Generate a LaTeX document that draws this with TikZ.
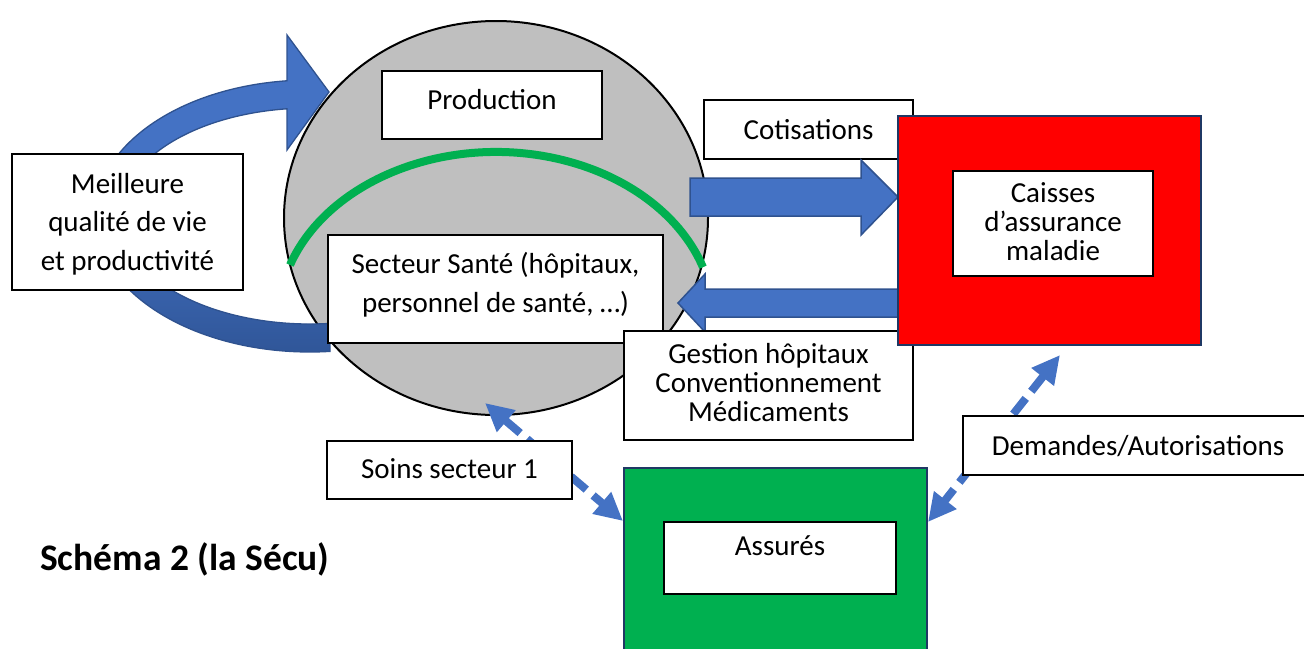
\documentclass[tikz,border=0pt]{standalone}
\usepackage{fontspec}
\setmainfont{Carlito}
\usetikzlibrary{arrows.meta,shapes.geometric}
\definecolor{ablue}{HTML}{4472C4}
\definecolor{ablueD}{HTML}{2F5597}
\definecolor{aedge}{HTML}{2F528F}
\definecolor{agreen}{HTML}{00B050}
\definecolor{anavy}{HTML}{1F3864}
\definecolor{agray}{HTML}{BFBFBF}
% width, height, first-baseline offset, baselineskip, text
\newcommand\boxtxt[5]{\parbox[c][#2pt][t]{#1pt}{\centering\fontsize{29}{#4}\selectfont\rule{0pt}{#3pt}#5}}
\tikzset{
  wbox/.style={draw=black, line width=1.3pt, fill=white, inner sep=0pt, outer sep=0pt, anchor=north west},
  bigbox/.style={draw=anavy, line width=2pt, inner sep=0pt, outer sep=0pt, anchor=north west},
  blockarrow/.style={fill=ablue, draw=aedge, line width=1.5pt, line join=miter},
  dblarrow/.style={draw=ablue, line width=8pt, dash pattern=on 20pt off 9pt,
    {Triangle[length=28pt,width=27pt]}-{Triangle[length=28pt,width=27pt]}}
}
\begin{document}
\begin{tikzpicture}[x=1pt,y=-1pt]
\useasboundingbox (0,0) rectangle (1304,648);
\clip (0,0) rectangle (1304,648);

% central ellipse
\node[ellipse, draw=black, line width=2pt, fill=agray, minimum width=424pt, minimum height=394pt, inner sep=0pt] (sante) at (496,218) {};

% green arc
\draw[agreen, line width=8pt] (290,265) arc[start angle=199.1, end angle=341.7, x radius=218, y radius=168];

% curved block arrow on the left
\path[top color=ablue, bottom color=ablueD, middle color=ablue, draw=aedge, line width=1.3pt, line join=miter]
  (330,351.4) arc[start angle=84.66, end angle=263.86, x radius=215, y radius=136]
  -- (287,35) -- (329,92) -- (287,150) -- (287,108.8)
  arc[start angle=263.05, end angle=83.96, x radius=190, y radius=108] -- cycle;

% boxes in/around the ellipse
\node[wbox] (prod) at (382,71) {\boxtxt{220}{68}{38}{39}{Production}};
\node[wbox] (secteur) at (328,235) {\boxtxt{335}{108}{38}{39}{Secteur Santé (hôpitaux,\\personnel de santé, …)}};
\node[wbox] (vie) at (12,154) {\boxtxt{231}{136}{39}{38.5}{Meilleure\\qualité de vie\\et productivité}};
\node[wbox] (cotis) at (704,100) {\boxtxt{209}{59}{39}{39}{Cotisations}};

% block arrows
\draw[blockarrow] (690,178) -- (861,178) -- (861,160) -- (898,197) -- (861,235) -- (861,216) -- (690,216) -- cycle;
\draw[blockarrow] (898,289) -- (705,289) -- (705,274) -- (678,303) -- (705,332) -- (705,317) -- (898,317) -- cycle;

\node[wbox] (gestion) at (624,331) {\boxtxt{289}{109}{32}{29}{Gestion hôpitaux\\Conventionnement\\Médicaments}};

% red box
\node[bigbox, fill=red, minimum width=303pt, minimum height=229pt] (caisses) at (898,116) {};
\node[wbox] (caissesin) at (953,171) {\boxtxt{200}{105}{31}{29}{Caisses\\d’assurance\\maladie}};

% dashed double arrows
\coordinate (sA) at (485,403);
\coordinate (sB) at (623,521);
\coordinate (dA) at (1060,355);
\coordinate (dB) at (928,522);
\draw[dblarrow] (sA) -- (sB);
\draw[dblarrow] (dA) -- (dB);

\node[wbox] (soins) at (327,441) {\boxtxt{245}{58}{37}{39}{Soins secteur 1}};
\node[wbox] (demandes) at (963,416) {\boxtxt{350}{59}{39}{39}{Demandes/Autorisations}};

% green box
\node[bigbox, fill=agreen, minimum width=303pt, minimum height=200pt] (assures) at (624,468) {};
\node[wbox] (assuresin) at (664,522) {\boxtxt{232}{72}{33}{39}{Assurés}};

% title
\node[anchor=base west, inner sep=0pt, font=\bfseries\fontsize{37.5}{45}\selectfont] (titre) at (40,570) {Schéma 2 (la Sécu)};
\end{tikzpicture}
\end{document}
